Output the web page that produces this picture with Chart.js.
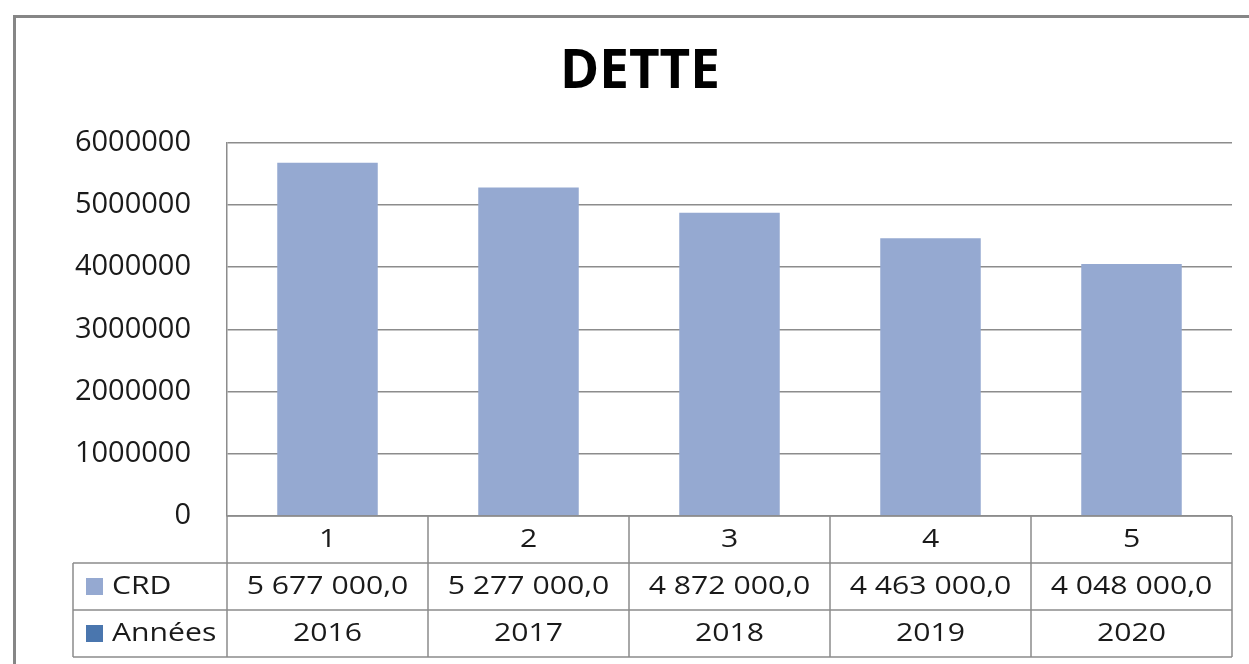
<!DOCTYPE html>
<html>
<head>
<meta charset="utf-8">
<script src="https://cdn.jsdelivr.net/npm/chart.js@4/dist/chart.umd.min.js"></script>
<style>
  html, body { margin: 0; padding: 0; background: #fff; }
  #wrap { width: 1249px; height: 664px; }
</style>
</head>
<body>
<div id="wrap"><canvas id="detteChart" width="1249" height="664"></canvas></div>
<script>
const categories = ["1", "2", "3", "4", "5"];
const crdValues = [5677000, 5277000, 4872000, 4463000, 4048000];
const crdLabels = ["5 677 000,0", "5 277 000,0", "4 872 000,0", "4 463 000,0", "4 048 000,0"];
const years = ["2016", "2017", "2018", "2019", "2020"];
const yTicks = [0, 1000000, 2000000, 3000000, 4000000, 5000000, 6000000];

const crdColor = "#95a9d1";
const yearsColor = "#4a76ae";
const lineColor = "#8c8c8c";
const textColor = "#1a1a1a";
const fontFamily = "'Open Sans', sans-serif";

// frame round the whole chart, and the data table under the plot
const framePlugin = {
    id: "frame",
    beforeDraw(chart) {
        const ctx = chart.ctx;
        ctx.save();
        ctx.fillStyle = "#fff";
        ctx.fillRect(0, 0, chart.width, chart.height);
        ctx.strokeStyle = "#868686";
        ctx.lineWidth = 3;
        ctx.strokeRect(14.5, 16.5, chart.width + 20, chart.height + 20);
        ctx.restore();
    }
};

// text in the table looks a little wide in the original, so stretch it a bit
function wideText(ctx, text, x, y) {
    ctx.save();
    ctx.translate(x, y);
    ctx.scale(1.16, 1);
    ctx.fillText(text, 0, 0);
    ctx.restore();
}

const tablePlugin = {
    id: "dataTable",
    afterDraw(chart) {
        const ctx = chart.ctx;
        const xs = chart.scales.x;
        const area = chart.chartArea;
        const half = (xs.getPixelForValue(1) - xs.getPixelForValue(0)) / 2;
        const rowH = 47;
        const top = area.bottom;
        const labelLeft = 73;

        ctx.save();
        ctx.strokeStyle = lineColor;
        ctx.lineWidth = 1.5;
        ctx.beginPath();
        // horizontal lines
        ctx.moveTo(area.left, top);
        ctx.lineTo(area.right, top);
        for (let r = 1; r <= 3; r++) {
            ctx.moveTo(labelLeft, top + r * rowH);
            ctx.lineTo(area.right, top + r * rowH);
        }
        // vertical lines
        ctx.moveTo(labelLeft, top + rowH);
        ctx.lineTo(labelLeft, top + 3 * rowH);
        for (let i = 0; i < categories.length; i++) {
            const left = xs.getPixelForValue(i) - half;
            ctx.moveTo(left, top);
            ctx.lineTo(left, top + 3 * rowH);
        }
        ctx.moveTo(area.right, top);
        ctx.lineTo(area.right, top + 3 * rowH);
        ctx.stroke();

        ctx.fillStyle = textColor;
        ctx.font = "26px " + fontFamily;
        ctx.textAlign = "center";
        ctx.textBaseline = "middle";
        for (let i = 0; i < categories.length; i++) {
            const cx = xs.getPixelForValue(i);
            wideText(ctx, categories[i], cx, top + rowH * 0.5);
            wideText(ctx, crdLabels[i], cx, top + rowH * 1.5);
            wideText(ctx, years[i], cx, top + rowH * 2.5);
        }

        // legend keys in the first column
        const rows = [["CRD", crdColor], ["Années", yearsColor]];
        ctx.textAlign = "left";
        rows.forEach((row, r) => {
            const cy = top + rowH * (1.5 + r);
            ctx.fillStyle = row[1];
            ctx.fillRect(86, cy - 8.5, 17, 17);
            ctx.fillStyle = textColor;
            wideText(ctx, row[0], 112, cy);
        });
        ctx.restore();
    }
};

new Chart(document.getElementById("detteChart").getContext("2d"), {
    type: "bar",
    data: {
        labels: categories,
        datasets: [{
            label: "CRD",
            data: crdValues,
            backgroundColor: crdColor,
            categoryPercentage: 1,
            barPercentage: 0.5
        }]
    },
    options: {
        responsive: false,
        animation: false,
        layout: { padding: { left: 48, right: 17, top: 0, bottom: 148 } },
        plugins: {
            legend: { display: false },
            tooltip: { enabled: false },
            title: {
                display: true,
                text: "DETTE",
                color: "#000",
                font: { family: fontFamily, size: 53, weight: "bold" },
                padding: { top: 41, bottom: 38 }
            }
        },
        scales: {
            x: { display: false },
            y: {
                min: 0,
                max: 6000000,
                afterBuildTicks(scale) {
                    scale.ticks = yTicks.map(v => ({ value: v }));
                },
                afterFit(scale) { scale.width = 179; },
                grid: { color: lineColor, lineWidth: 1.5, drawTicks: false },
                border: { display: true, color: lineColor, width: 1.5 },
                ticks: {
                    padding: 36,
                    color: textColor,
                    font: { family: fontFamily, size: 29 },
                    callback: v => String(v)
                }
            }
        }
    },
    plugins: [framePlugin, tablePlugin]
});
</script>
</body>
</html>
